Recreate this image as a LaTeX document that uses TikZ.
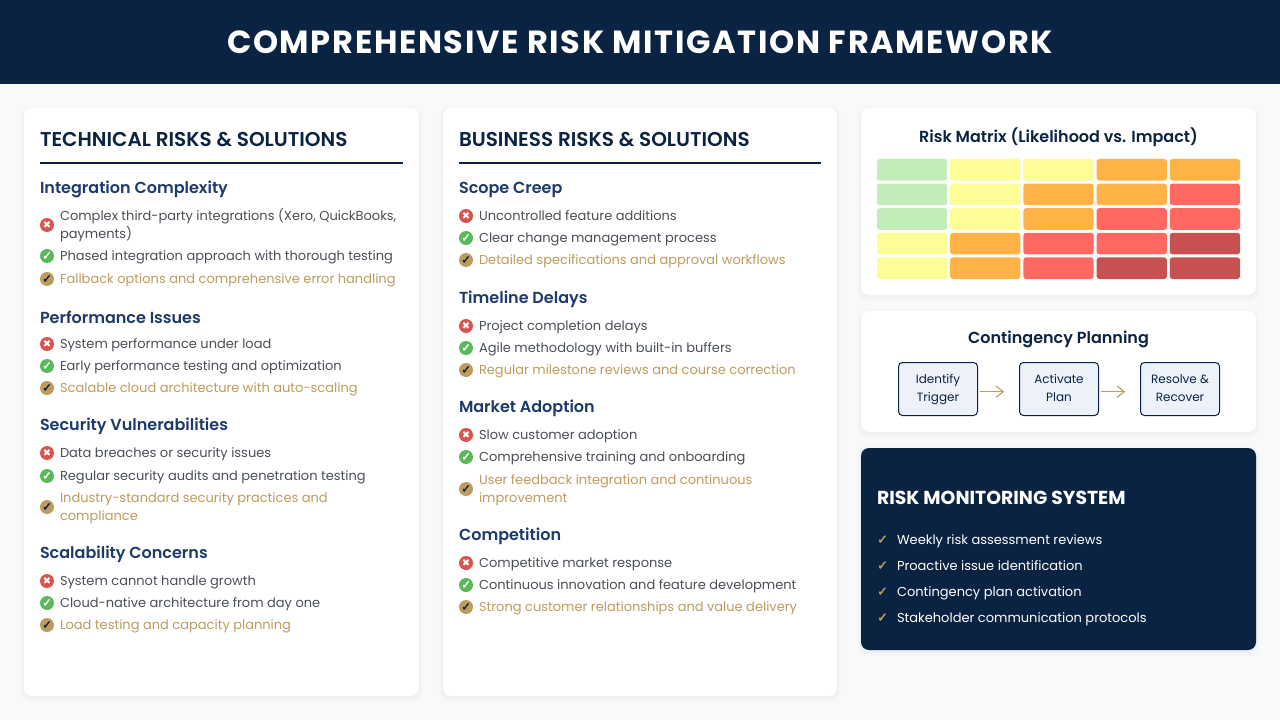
\documentclass[tikz,border=0pt]{standalone}
\usepackage{fontspec}
\setmainfont{Poppins}
\newfontfamily\semi{Poppins SemiBold}
\newfontfamily\titlef[LetterSpace=5.2]{Poppins}
\newfontfamily\sym[AutoFakeBold=2.5]{DejaVu Sans}
\usetikzlibrary{arrows.meta}
\definecolor{navy}{HTML}{0A2342}
\definecolor{blue3}{HTML}{1D3A6B}
\definecolor{gold}{HTML}{BE9B5E}
\definecolor{txt}{HTML}{4A4F57}
\definecolor{bgc}{HTML}{F8F9FB}
\definecolor{redi}{HTML}{D9534F}
\definecolor{greeni}{HTML}{5CB85C}
\definecolor{mG}{HTML}{C1EDB8}
\definecolor{mY}{HTML}{FDFD96}
\definecolor{mO}{HTML}{FFB347}
\definecolor{mR}{HTML}{FF6961}
\definecolor{mD}{HTML}{C75150}
\definecolor{flow}{HTML}{EDF2FA}
\def\st{\rule[-3.5pt]{0pt}{13.5pt}}
\def\stf{\rule[-4.1pt]{0pt}{13.5pt}}
\def\sth{\rule[-1.4pt]{0pt}{13.5pt}}
\tikzset{
  x=0.75pt,y=-0.75pt,
  every node/.style={inner sep=0pt,outer sep=0pt},
  coltitle/.style={anchor=west,font=\semi\fontsize{15}{18}\selectfont,text=navy},
  subhead/.style={anchor=west,font=\semi\fontsize{12}{15}\selectfont,text=blue3},
  itemtext/.style={anchor=west,font=\fontsize{9.75}{13.5}\selectfont,align=left},
  iconbase/.style={circle,minimum size=10.5pt},
  iconx/.style={iconbase,fill=redi,text=white,font=\sym\fontsize{7.5}{8}\selectfont},
  iconc/.style={iconbase,fill=greeni,text=white,font=\sym\bfseries\fontsize{8.5}{9}\selectfont},
  icong/.style={iconbase,fill=gold,text=navy,font=\sym\bfseries\fontsize{8.5}{9}\selectfont},
  cell/.style={anchor=north west,rounded corners=2pt,minimum width=52.65pt,minimum height=16.2pt},
  flowbox/.style={draw=navy,line width=0.75pt,fill=flow,rounded corners=3pt,minimum width=59.25pt,minimum height=39.75pt,align=center,font=\fontsize{9}{13.5}\selectfont,text=navy},
  flowarrow/.style={draw=gold,line width=0.8pt,-{Straight Barb[length=5.5pt,width=8.5pt]}},
  cardtitle/.style={anchor=center,font=\semi\fontsize{12}{15}\selectfont,text=navy},
  monitem/.style={anchor=west,font=\fontsize{9.75}{13.5}\selectfont,text=white},
  montick/.style={anchor=center,font=\sym\bfseries\fontsize{9.5}{10}\selectfont,text=gold},
}
\newcommand{\card}[5]{%
  \fill[black,opacity=.012,rounded corners=8pt] (#1-4,#2-2) rectangle (#3+4,#4+6);
  \fill[black,opacity=.012,rounded corners=7pt] (#1-2,#2) rectangle (#3+2,#4+4);
  \fill[black,opacity=.015,rounded corners=6pt] (#1-1,#2+1) rectangle (#3+1,#4+2);
  \fill[#5,rounded corners=6pt] (#1,#2) rectangle (#3,#4);}
% \ri{id}{x of icon}{y}{icon style}{text colour}{glyph}{text}
\newcommand{\ri}[7]{%
  \node[#4] (i#1) at (#2,#3) {#6};
  \node[itemtext,text=#5] (t#1) at (#2+13,#3) {#7};}
\newcommand{\bad}[4]{\ri{#1}{#2}{#3}{iconx}{txt}{✖}{\st #4}}
\newcommand{\good}[4]{\ri{#1}{#2}{#3}{iconc}{txt}{✓}{\st #4}}
\newcommand{\best}[4]{\ri{#1}{#2}{#3}{icong}{gold}{✓}{\st #4}}
\begin{document}
\begin{tikzpicture}
\useasboundingbox (0,0) rectangle (1280,720);
\fill[bgc] (0,0) rectangle (1280,720);
\fill[navy] (0,0) rectangle (1280,84);
\node[font=\titlef\bfseries\fontsize{24}{28}\selectfont,text=white] (title) at (640,42) {COMPREHENSIVE RISK MITIGATION FRAMEWORK};

\card{24}{108}{419}{696}{white}
\card{443}{108}{837}{696}{white}
\card{861}{108}{1256}{295}{white}
\card{861}{311}{1256}{432}{white}
\card{861}{448}{1256}{650}{navy}

% left column
\node[coltitle] (h1) at (40,139) {TECHNICAL RISKS \& SOLUTIONS};
\coordinate (h1a) at (40,163); \coordinate (h1b) at (403,163);
\draw[navy,line width=1.5pt] (h1a) -- (h1b);
\node[subhead] (a0) at (40,188) {\sth Integration Complexity};
\bad{a1}{47}{225}{Complex third-party integrations (Xero, QuickBooks,\\\st payments)}
\good{a2}{47}{256}{Phased integration approach with thorough testing}
\best{a3}{47}{279}{Fallback options and comprehensive error handling}
\node[subhead] (b0) at (40,316) {\sth Performance Issues};
\bad{b1}{47}{344}{System performance under load}
\good{b2}{47}{366}{Early performance testing and optimization}
\best{b3}{47}{388}{Scalable cloud architecture with auto-scaling}
\node[subhead] (c0) at (40,425) {\sth Security Vulnerabilities};
\bad{c1}{47}{453}{Data breaches or security issues}
\good{c2}{47}{476}{Regular security audits and penetration testing}
\best{c3}{47}{507}{Industry-standard security practices and\\\st compliance}
\node[subhead] (d0) at (40,553) {\sth Scalability Concerns};
\bad{d1}{47}{581}{System cannot handle growth}
\good{d2}{47}{603}{Cloud-native architecture from day one}
\best{d3}{47}{625}{Load testing and capacity planning}

% middle column
\node[coltitle] (h2) at (459,139) {BUSINESS RISKS \& SOLUTIONS};
\coordinate (h2a) at (459,163); \coordinate (h2b) at (821,163);
\draw[navy,line width=1.5pt] (h2a) -- (h2b);
\node[subhead] (e0) at (459,188) {\sth Scope Creep};
\bad{e1}{466}{216}{Uncontrolled feature additions}
\good{e2}{466}{238}{Clear change management process}
\best{e3}{466}{260}{Detailed specifications and approval workflows}
\node[subhead] (f0) at (459,298) {\sth Timeline Delays};
\bad{f1}{466}{326}{Project completion delays}
\good{f2}{466}{348}{Agile methodology with built-in buffers}
\best{f3}{466}{370}{Regular milestone reviews and course correction}
\node[subhead] (g0) at (459,407) {\sth Market Adoption};
\bad{g1}{466}{435}{Slow customer adoption}
\good{g2}{466}{457}{Comprehensive training and onboarding}
\best{g3}{466}{489}{User feedback integration and continuous\\\st improvement}
\node[subhead] (k0) at (459,535) {\sth Competition};
\bad{k1}{466}{563}{Competitive market response}
\good{k2}{466}{585}{Continuous innovation and feature development}
\best{k3}{466}{607}{Strong customer relationships and value delivery}

% risk matrix
\node[cardtitle] (mt) at (1058.5,137) {Risk Matrix (Likelihood vs. Impact)};
\foreach \r/\yy/\cols in {1/159/{mG,mY,mY,mO,mO},2/183.6/{mG,mY,mO,mO,mR},3/208.2/{mG,mY,mO,mR,mR},4/232.8/{mY,mO,mR,mR,mD},5/257.4/{mY,mO,mR,mD,mD}}{
  \foreach \c [count=\i from 0] in \cols {
    \node[cell,fill=\c] (m\r-\i) at (877+\i*73.2,\yy) {};
  }
}

% contingency
\node[cardtitle] (ct) at (1058.5,339) {Contingency Planning};
\node[flowbox] (s1) at (938,389) {\stf Identify\\\stf Trigger};
\node[flowbox] (s2) at (1059,389) {\stf Activate\\\stf Plan};
\node[flowbox] (s3) at (1180,389) {\stf Resolve \&\\\stf Recover};
\draw[flowarrow,shorten <=1.5pt,shorten >=11.5pt] ([yshift=-2pt]s1.east) -- ([yshift=-2pt]s2.west);
\draw[flowarrow,shorten <=1.5pt,shorten >=11.5pt] ([yshift=-2pt]s2.east) -- ([yshift=-2pt]s3.west);

% monitoring
\node[anchor=west,font=\bfseries\fontsize{14.1}{17}\selectfont,text=white] (mon) at (877,497.5) {RISK MONITORING SYSTEM};
\foreach \n/\yy/\tt in {1/539.7/Weekly risk assessment reviews,2/565.7/Proactive issue identification,3/591.7/Contingency plan activation,4/617.7/Stakeholder communication protocols}{
  \node[montick] (mk\n) at (882.5,\yy) {✓};
  \node[monitem] (mi\n) at (897,\yy) {\st \tt};
}
\end{tikzpicture}
\end{document}
